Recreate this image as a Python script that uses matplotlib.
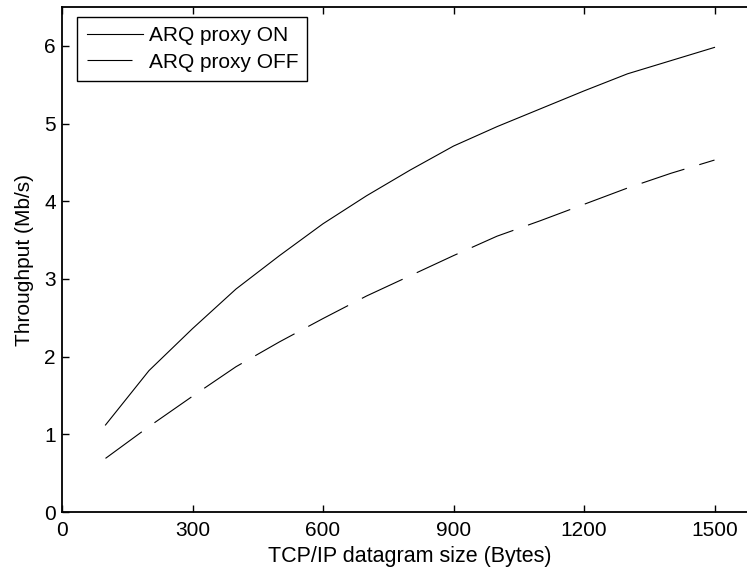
import numpy as np
import matplotlib
matplotlib.use('Agg')
from matplotlib import pyplot as plt

# datagram sizes (Bytes) and throughput (Mb/s)
size = [100, 200, 300, 400, 500, 600, 700, 800, 900, 1000, 1100, 1200, 1300, 1400, 1500]
proxy_on = [1.12, 1.82, 2.36, 2.87, 3.30, 3.71, 4.07, 4.40, 4.71, 4.96, 5.19, 5.42, 5.64, 5.81, 5.98]
proxy_off = [0.69, 1.10, 1.49, 1.87, 2.19, 2.49, 2.78, 3.04, 3.30, 3.55, 3.75, 3.96, 4.17, 4.36, 4.53]

xticks = [0, 300, 600, 900, 1200, 1500]
yticks = [0, 1, 2, 3, 4, 5, 6]

plt.rcParams['font.family'] = ['Liberation Sans', 'DejaVu Sans']

fig = plt.figure(figsize=(7.47, 5.71), dpi=100)
ax = fig.add_axes([62 / 747, 59 / 571, 696 / 747, 505 / 571])

ax.plot(size, proxy_on, color='black', linewidth=0.8, label='ARQ proxy ON')
ax.plot(size, proxy_off, color='black', linewidth=0.8, linestyle=(0, (40.5, 14)),
        label='ARQ proxy OFF')

ax.set_xlim(0, 1600)
ax.set_ylim(0, 6.5)
ax.set_xticks(xticks)
ax.set_yticks(yticks)
ax.tick_params(direction='in', length=5, width=1, labelsize=15, top=True, right=True)
ax.tick_params(axis='x', pad=6.5)
ax.tick_params(axis='y', pad=4.5)
for s in ax.spines.values():
    s.set_linewidth(1.3)

ax.set_xlabel('TCP/IP datagram size (Bytes)', fontsize=15.5, labelpad=4)
ax.set_ylabel('Throughput (Mb/s)', fontsize=15, labelpad=7)

leg = ax.legend(loc='upper left', bbox_to_anchor=(0.022, 0.98), fontsize=15,
                handlelength=2.7, handletextpad=0.27, labelspacing=0.35,
                borderpad=0.45, borderaxespad=0, fancybox=False, framealpha=1)
leg.get_frame().set_edgecolor('black')
leg.get_frame().set_linewidth(1.0)

fig.savefig('out.png', dpi=100)
